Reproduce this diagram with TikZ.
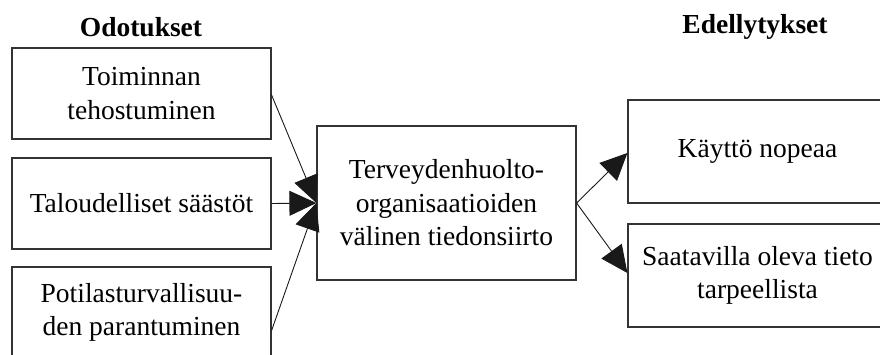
\documentclass[tikz,border=0pt]{standalone}
\usepackage{fontspec}
\setmainfont{Liberation Serif}
\usetikzlibrary{arrows.meta}
\begin{document}
\begin{tikzpicture}[x=1pt,y=-1pt,
  box/.style={draw=black!80,line width=1.2pt,minimum width=259pt,
    inner sep=0pt,align=center,font=\fontsize{27.5}{33.5}\selectfont},
  head/.style={font=\bfseries\fontsize{27.5}{33}\selectfont,inner sep=0pt},
  link/.style={draw=black!90,line width=0.9pt,
    -{Triangle[length=27pt,width=25pt]}}]
\useasboundingbox (0,0) rectangle (880,354);
\clip (0,0) rectangle (880,354);

% column headings
\node[head] (hl) at (141,27) {Odotukset};
\node[head] (hr) at (755,27) {Edellytykset};

% expectations (left column)
\node[box,minimum height=91pt] (b1) at (141.5,93.5) {Toiminnan\\tehostuminen};
\node[box,minimum height=91pt] (b2) at (141.5,203.5) {Taloudelliset säästöt};
\node[box,minimum height=91pt] (b3) at (141.5,312.5) {Potilasturvallisuu-\\den parantuminen};

% central topic
\node[box,minimum height=154pt] (c) at (446.5,203) {Terveydenhuolto-\\organisaatioiden\\välinen tiedonsiirto};

% prerequisites (right column)
\node[box,minimum height=103pt] (r1) at (757.5,151.5) {Käyttö nopeaa};
\node[box,minimum height=103pt] (r2) at (757.5,275.5) {Saatavilla oleva tieto\\tarpeellista};

% connectors
\draw[link] ([yshift=-1.5pt]b1.east) -- (c.west);
\draw[link] (b2.east) -- (c.west);
\draw[link] ([yshift=-18pt]b3.east) -- (c.west);
\draw[link] (c.east) -- ([yshift=-1.5pt]r1.west);
\draw[link] (c.east) -- ([yshift=2.5pt]r2.west);
\end{tikzpicture}
\end{document}
